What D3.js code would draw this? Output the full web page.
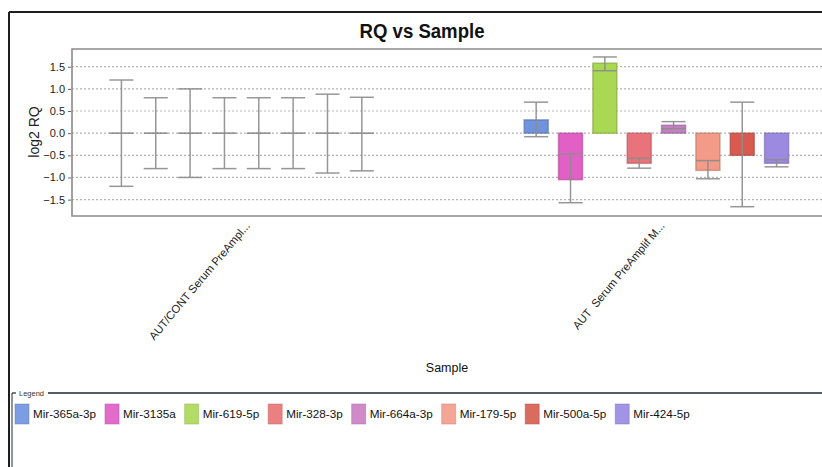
<!DOCTYPE html>
<html>
<head>
<meta charset="utf-8">
<script src="https://cdn.jsdelivr.net/npm/d3@7/dist/d3.min.js"></script>
<style>
  html, body { margin: 0; padding: 0; background: #fff; }
  svg { display: block; font-family: "Liberation Sans", Arial, sans-serif; }
</style>
</head>
<body>
<svg id="chart" width="822" height="467"></svg>
<script>
// Samples (x-axis categories)
const samples = ["AUT/CONT Serum PreAmpl...", "AUT  Serum PreAmplif M..."];
// Targets (one bar per target within each sample)
const targets = ["Mir-365a-3p", "Mir-3135a", "Mir-619-5p", "Mir-328-3p",
                 "Mir-664a-3p", "Mir-179-5p", "Mir-500a-5p", "Mir-424-5p"];
const barColors = ["#6f93dc", "#e25fc6", "#a9d852", "#e9737a",
                   "#c47ec4", "#f49a88", "#d95a4e", "#9c89e0"];
const swatchColors = ["#7d9de2", "#e36bca", "#b3dc66", "#ea8080",
                      "#d08ac9", "#f5a596", "#d96c5e", "#a193e6"];

// log2 RQ per target, reference sample (calibrator) and AUT sample
const rqControl = [0, 0, 0, 0, 0, 0, 0, 0];
const rqAut     = [0.30, -1.05, 1.58, -0.68, 0.18, -0.84, -0.50, -0.68];
// error bar limits (log2 RQ min / max)
const lowControl  = [-1.20, -0.80, -1.00, -0.80, -0.80, -0.80, -0.90, -0.85];
const highControl = [ 1.20,  0.80,  1.00,  0.80,  0.80,  0.80,  0.88,  0.81];
const lowAut      = [-0.08, -1.57, 1.41, -0.79, 0.10, -1.03, -1.66, -0.76];
const highAut     = [ 0.70, -0.47, 1.72, -0.57, 0.26, -0.62,  0.70, -0.60];

const yTicks = [-1.5, -1.0, -0.5, 0.0, 0.5, 1.0, 1.5];

const rows = [];
samples.forEach((s, si) => {
  const rq = si === 0 ? rqControl : rqAut;
  const lo = si === 0 ? lowControl : lowAut;
  const hi = si === 0 ? highControl : highAut;
  targets.forEach((t, ti) => rows.push({ sample: s, target: t, i: ti, rq: rq[ti], lo: lo[ti], hi: hi[ti] }));
});

const svg = d3.select("#chart");
const plot = { left: 72, right: 822, top: 49, bottom: 216 };

const x0 = d3.scaleBand().domain(samples).range([72, 826])
  .paddingInner(0.3375).paddingOuter(0.0777);
const x1 = d3.scaleBand().domain(targets).range([0, x0.bandwidth()])
  .paddingInner(0.3).paddingOuter(0.15);
const y = d3.scaleLinear().domain([-1.87, 1.9]).range([plot.bottom, plot.top]);
const color = d3.scaleOrdinal().domain(targets).range(barColors);

// outer frame
svg.append("line").attr("x1", 9).attr("x2", 822).attr("y1", 12).attr("y2", 12)
  .attr("stroke", "#1e1e1e").attr("stroke-width", 2);
svg.append("line").attr("x1", 9).attr("x2", 9).attr("y1", 12).attr("y2", 467)
  .attr("stroke", "#1e1e1e").attr("stroke-width", 2);

// title
svg.append("text").attr("transform", "translate(422,38) scale(0.93,1.05)").attr("text-anchor", "middle")
  .attr("font-size", 20).attr("font-weight", "bold").attr("fill", "#111")
  .text("RQ vs Sample");

// grid lines
svg.append("g").selectAll("line").data(yTicks).join("line")
  .attr("x1", plot.left).attr("x2", plot.right)
  .attr("y1", d => y(d)).attr("y2", d => y(d))
  .attr("stroke", "#b4b4b4").attr("stroke-width", 1.2).attr("stroke-dasharray", "2,2");

// plot border
svg.append("path")
  .attr("d", `M${plot.right},${plot.top}H${plot.left}V${plot.bottom}H${plot.right}`)
  .attr("fill", "none").attr("stroke", "#8a8a8a").attr("stroke-width", 1.6);

// y axis
const yAxis = d3.axisLeft(y).tickValues(yTicks).tickFormat(d3.format(".1f")).tickSize(3).tickPadding(3);
const ya = svg.append("g").attr("transform", `translate(${plot.left - 1},0)`).call(yAxis);
ya.select(".domain").remove();
ya.selectAll("line").attr("stroke", "#666");
ya.selectAll("text").attr("font-size", 11).attr("fill", "#222")
  .attr("font-family", "'Liberation Sans', Arial, sans-serif");

svg.append("text").attr("transform", "translate(39,132) rotate(-90)")
  .attr("text-anchor", "middle").attr("font-size", 14).attr("fill", "#222")
  .text("log2 RQ");

// bars
const bw = x1.bandwidth();
const g = svg.append("g");
g.selectAll("rect.bar").data(rows.filter(d => d.rq !== 0)).join("rect")
  .attr("class", "bar")
  .attr("x", d => x0(d.sample) + x1(d.target))
  .attr("width", bw)
  .attr("y", d => y(Math.max(0, d.rq)))
  .attr("height", d => Math.abs(y(d.rq) - y(0)))
  .attr("fill", d => color(d.target))
  .attr("stroke", d => d3.color(color(d.target)).darker(0.8))
  .attr("stroke-opacity", 0.6).attr("stroke-width", 1.5);

// zero-height bars drawn as a line at their value
g.selectAll("line.flat").data(rows.filter(d => d.rq === 0)).join("line")
  .attr("class", "flat")
  .attr("x1", d => x0(d.sample) + x1(d.target))
  .attr("x2", d => x0(d.sample) + x1(d.target) + bw)
  .attr("y1", d => y(d.rq)).attr("y2", d => y(d.rq))
  .attr("stroke", "#8c8c8c").attr("stroke-width", 1.5);

// error bars
const eb = g.selectAll("g.err").data(rows).join("g").attr("class", "err")
  .attr("stroke", "#8c8c8c").attr("stroke-width", 1.5).attr("stroke-opacity", 0.9);
eb.append("line")
  .attr("x1", d => x0(d.sample) + x1(d.target) + bw / 2)
  .attr("x2", d => x0(d.sample) + x1(d.target) + bw / 2)
  .attr("y1", d => y(d.lo)).attr("y2", d => y(d.hi));
eb.append("line")
  .attr("x1", d => x0(d.sample) + x1(d.target))
  .attr("x2", d => x0(d.sample) + x1(d.target) + bw)
  .attr("y1", d => y(d.hi)).attr("y2", d => y(d.hi));
eb.append("line")
  .attr("x1", d => x0(d.sample) + x1(d.target))
  .attr("x2", d => x0(d.sample) + x1(d.target) + bw)
  .attr("y1", d => y(d.lo)).attr("y2", d => y(d.lo));

// x tick labels
svg.append("g").selectAll("text").data(samples).join("text")
  .attr("transform", d => `translate(${x0(d) + x0.bandwidth() / 2 + 9},226) rotate(-50)`)
  .attr("text-anchor", "end").attr("font-size", 11.3).attr("fill", "#222")
  .attr("xml:space", "preserve").style("white-space", "pre")
  .text(d => d);

svg.append("text").attr("x", 447).attr("y", 372).attr("text-anchor", "middle")
  .attr("font-size", 12.5).attr("fill", "#111").text("Sample");

// legend panel
svg.append("line").attr("x1", 48).attr("x2", 822).attr("y1", 393).attr("y2", 393)
  .attr("stroke", "#1e2a30").attr("stroke-width", 1.6);
svg.append("line").attr("x1", 12).attr("x2", 16).attr("y1", 393).attr("y2", 393)
  .attr("stroke", "#1e2a30").attr("stroke-width", 1.2);
svg.append("line").attr("x1", 12).attr("x2", 12).attr("y1", 393).attr("y2", 467)
  .attr("stroke", "#1e2a30").attr("stroke-width", 1);
svg.append("text").attr("x", 19).attr("y", 396).attr("font-size", 7.5).attr("fill", "#333")
  .text("Legend");

const lg = svg.append("g");
let lx = 15;
targets.forEach((t, i) => {
  lg.append("rect").attr("x", lx).attr("y", 404).attr("width", 14).attr("height", 20)
    .attr("fill", swatchColors[i])
    .attr("stroke", d3.color(swatchColors[i]).darker(0.6)).attr("stroke-opacity", 0.5);
  const tx = lg.append("text").attr("x", lx + 18).attr("y", 418)
    .attr("font-size", 11.7).attr("fill", "#111").text(t);
  lx = lx + 18 + tx.node().getComputedTextLength() + 9;
});
</script>
</body>
</html>
